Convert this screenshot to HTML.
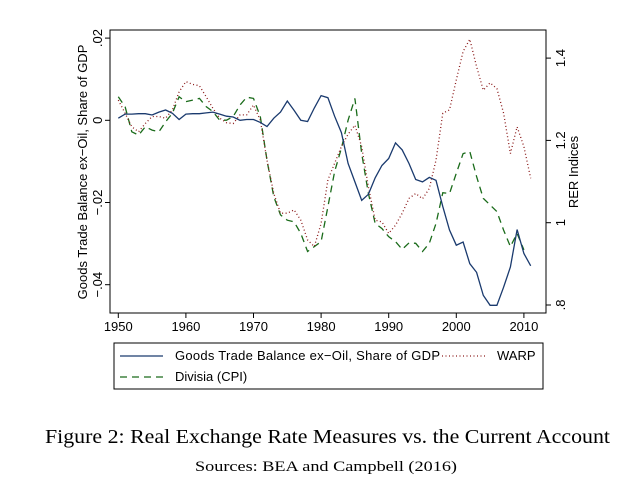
<!DOCTYPE html>
<html><head><meta charset="utf-8"><style>
body{margin:0;background:#fff;}
svg{display:block;font-family:"Liberation Sans",sans-serif;}
.serif{font-family:"Liberation Serif",serif;}
</style></head><body>
<svg id="chart" width="640" height="482" viewBox="0 0 640 482">
<rect x="0" y="0" width="640" height="482" fill="#fff"/>
<rect x="110" y="30" width="436" height="283" fill="#fff" stroke="#000" stroke-width="1"/>
<g id="axes"></g>
<g id="series"></g>
<text transform="translate(87,172) rotate(-90)" text-anchor="middle" font-size="13">Goods Trade Balance ex−Oil, Share of GDP</text>
<text transform="translate(578,172) rotate(-90)" text-anchor="middle" font-size="13">RER Indices</text>
<g>
<rect x="114" y="343" width="429" height="46" fill="#fff" stroke="#000" stroke-width="1"/>
<line x1="120" y1="356" x2="163" y2="356" stroke="#1a3a6e" stroke-width="1.3"/>
<text x="175" y="360" font-size="13" textLength="265">Goods Trade Balance ex−Oil, Share of GDP</text>
<line x1="442" y1="356" x2="485" y2="356" stroke="#8b1a1a" stroke-width="1.3" stroke-dasharray="1,2.5"/>
<text x="497" y="360" font-size="13">WARP</text>
<line x1="120" y1="377" x2="163" y2="377" stroke="#1a6b1a" stroke-width="1.3" stroke-dasharray="7,5"/>
<text x="175" y="381" font-size="13">Divisia (CPI)</text>
</g>
<text class="serif" x="45" y="443" font-size="20.5" textLength="565" lengthAdjust="spacingAndGlyphs">Figure 2: Real Exchange Rate Measures vs. the Current Account</text>
<text class="serif" x="195" y="471" font-size="15" textLength="262" lengthAdjust="spacingAndGlyphs">Sources: BEA and Campbell (2016)</text>
</svg>
<script>
const startYear = 1950;
const tradeBalance = [0.0005,0.0015,0.0015,0.0016,0.0016,0.0013,0.002,0.0025,0.0017,0.0002,0.0015,0.0016,0.0016,0.0018,0.002,0.0015,0.001,0.0008,0.0,0.0002,0.0002,-0.0005,-0.0015,0.0005,0.002,0.0047,0.0024,0.0,-0.0003,0.003,0.006,0.0055,0.001,-0.003,-0.0105,-0.015,-0.0195,-0.018,-0.014,-0.011,-0.0093,-0.0055,-0.0072,-0.0105,-0.0144,-0.015,-0.0139,-0.0146,-0.021,-0.0267,-0.0304,-0.0296,-0.0349,-0.037,-0.0426,-0.045,-0.045,-0.0406,-0.0357,-0.0266,-0.0324,-0.0354];
const warp = [1.298,1.266,1.233,1.221,1.241,1.258,1.258,1.254,1.274,1.318,1.343,1.336,1.333,1.306,1.278,1.254,1.243,1.241,1.262,1.262,1.286,1.249,1.152,1.071,1.023,1.023,1.031,1.006,0.958,0.942,0.998,1.104,1.144,1.185,1.215,1.237,1.185,1.087,1.006,1.002,0.974,0.994,1.023,1.059,1.071,1.058,1.083,1.152,1.266,1.274,1.347,1.416,1.446,1.379,1.322,1.340,1.326,1.266,1.168,1.233,1.185,1.108];
const divisia = [1.306,1.282,1.221,1.213,1.233,1.225,1.221,1.245,1.266,1.306,1.294,1.298,1.302,1.282,1.270,1.249,1.249,1.258,1.286,1.305,1.302,1.258,1.152,1.063,1.019,1.006,1.002,0.974,0.930,0.942,0.954,1.039,1.124,1.181,1.249,1.302,1.168,1.071,0.998,0.986,0.966,0.954,0.935,0.951,0.950,0.930,0.950,0.998,1.073,1.071,1.120,1.168,1.173,1.112,1.059,1.043,1.027,0.982,0.942,0.974,0.934];
const xTicks = [1950,1960,1970,1980,1990,2000,2010];
const leftTicks = [0.02,0,-0.02,-0.04];
const leftTickLabels = [".02","0","−.02","−.04"];
const rightTicks = [0.8,1,1.2,1.4];
const rightTickLabels = [".8","1","1.2","1.4"];

const NS = "http://www.w3.org/2000/svg";
const xScale = yr => 118.3 + (yr - 1950) * 6.76;
const yLeft = v => 120.3 - v * 4110;
const yRight = v => 222.7 - (v - 1) * 411.5;
function mk(tag, attrs, parent){const e=document.createElementNS(NS,tag);for(const k in attrs)e.setAttribute(k,attrs[k]);parent.appendChild(e);return e;}
const axes = document.getElementById('axes');
const series = document.getElementById('series');
xTicks.forEach(t=>{
  const x = xScale(t);
  const l = mk('line',{x1:x,y1:313,x2:x,y2:318,stroke:'#000'},axes);
  
  
  const tx = mk('text',{x:x,y:331,'text-anchor':'middle','font-size':'13'},axes);
  tx.textContent = t;
  
  
});
leftTicks.forEach((t,i)=>{
  const y = yLeft(t);
  const l = mk('line',{x1:105,y1:y,x2:110,y2:y,stroke:'#000'},axes);
  
  
  const tx = mk('text',{transform:`translate(102,${y}) rotate(-90)`,'text-anchor':'middle','font-size':'13'},axes);
  tx.textContent = leftTickLabels[i];
  
  
});
rightTicks.forEach((t,i)=>{
  const y = yRight(t);
  const l = mk('line',{x1:546,y1:y,x2:551,y2:y,stroke:'#000'},axes);
  
  
  const tx = mk('text',{transform:`translate(565,${y}) rotate(-90)`,'text-anchor':'middle','font-size':'13'},axes);
  tx.textContent = rightTickLabels[i];
  
  
});
function path(vals, yf){return vals.map((v,i)=>(i?'L':'M')+xScale(startYear+i).toFixed(1)+','+yf(v).toFixed(1)).join(' ');}
const pd = mk('path',{d:path(divisia,yRight),fill:'none',stroke:'#1a6b1a','stroke-width':'1.3','stroke-dasharray':'7,5'},series);


const pw = mk('path',{d:path(warp,yRight),fill:'none',stroke:'#8b1a1a','stroke-width':'1.3','stroke-dasharray':'1,2.5'},series);


const pt = mk('path',{d:path(tradeBalance,yLeft),fill:'none',stroke:'#1a3a6e','stroke-width':'1.3'},series);


</script>
</body></html>
